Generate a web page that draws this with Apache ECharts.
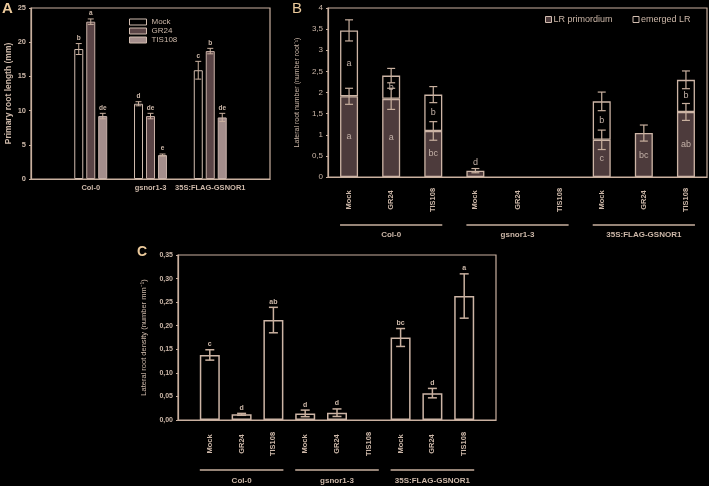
<!DOCTYPE html>
<html><head><meta charset="utf-8">
<script src="https://cdn.jsdelivr.net/npm/echarts@6/dist/echarts.min.js"></script>
<style>html,body{margin:0;padding:0;background:#000;}#c{width:709px;height:486px;}</style>
</head><body><div id="c"></div>
<script>
// ---------- Panel A data ----------
const groupsA = ['Col-0', 'gsnor1-3', '35S:FLAG-GSNOR1'];
const seriesNamesA = ['Mock', 'GR24', 'TIS108'];
const mockA = [19.0, 11.0, 15.9];
const gr24A = [23.0, 9.2, 18.7];
const tis108A = [9.2, 3.5, 9.0];
const mockErrA = [0.8, 0.3, 1.3];
const gr24ErrA = [0.4, 0.4, 0.4];
const tis108ErrA = [0.4, 0.15, 0.6];
const mockLetA = ['b', 'd', 'c'];
const gr24LetA = ['a', 'de', 'b'];
const tis108LetA = ['de', 'e', 'de'];

// ---------- Panel B data ----------
const treatments = ['Mock', 'GR24', 'TIS108', 'Mock', 'GR24', 'TIS108', 'Mock', 'GR24', 'TIS108'];
const seriesNamesB = ['LR primordium', 'emerged LR'];
const primB = [1.91, 1.85, 1.09, 0.15, 0, 0, 0.88, 1.04, 1.54];
const emergedB = [1.56, 0.55, 0.86, 0, 0, 0, 0.91, 0, 0.76];
const primErrB = [0.19, 0.25, 0.22, 0.05, 0, 0, 0.23, 0.19, 0.20];
const totalErrB = [0.25, 0.17, 0.19, 0, 0, 0, 0.22, 0, 0.21];
const primLetB = ['a', 'a', 'bc', 'd', '', '', 'c', 'bc', 'ab'];
const emergedLetB = ['a', 'b', 'b', '', '', '', 'b', '', 'b'];

// ---------- Panel C data ----------
const densityC = [0.138, 0.012, 0.212, 0.014, 0.0155, 0, 0.175, 0.057, 0.263];
const densityErrC = [0.011, 0.002, 0.027, 0.007, 0.008, 0, 0.019, 0.010, 0.047];
const densityLetC = ['c', 'd', 'ab', 'd', 'd', '', 'bc', 'd', 'a'];

// ---------- shared group structure ----------
const genotypes = ['Col-0', 'gsnor1-3', '35S:FLAG-GSNOR1'];
const groupSpans = [[0, 2], [3, 5], [6, 8]];

// ---------- styling ----------
const TXT = '#cdb8a9', LINE = '#c9b09f', FONT = 'Liberation Sans';
const BW_A = 9, BW_B = 18, BW_C = 20;

const chart = echarts.init(document.getElementById('c'));
const padCat = arr => [''].concat(arr, ['']);
const padVal = arr => [null].concat(arr.map(nz), [null]);
function nz(v) { return v === 0 ? null : v; }
const idxA = groupsA.map((g, i) => i + 1);
const idxB = treatments.map((t, i) => i);
const idxC = treatments.map((t, i) => i + 1);

function errorBars(xi, xs, vals, errs, dx, cap, lw) {
  return {
    type: 'custom', xAxisIndex: xi, yAxisIndex: xi, silent: true, z: 5,
    data: vals.map((v, i) => [xs[i], v + errs[i]]),
    renderItem: function (params, api) {
      const i = params.dataIndex, v = vals[i], e = errs[i];
      if (!(e > 0)) return { type: 'group', children: [] };
      const cx = api.coord([xs[i], 0])[0] + dx;
      const yt = api.coord([xs[i], v + e])[1];
      const yb = api.coord([xs[i], Math.max(0, v - e)])[1];
      const st = { stroke: LINE, lineWidth: lw };
      return { type: 'group', children: [
        { type: 'line', shape: { x1: cx, y1: yt, x2: cx, y2: yb }, style: st },
        { type: 'line', shape: { x1: cx - cap / 2, y1: yt, x2: cx + cap / 2, y2: yt }, style: st },
        { type: 'line', shape: { x1: cx - cap / 2, y1: yb, x2: cx + cap / 2, y2: yb }, style: st }
      ] };
    }
  };
}

function lettersAbove(xi, xs, tops, lets, dx, size, weight) {
  return {
    type: 'custom', xAxisIndex: xi, yAxisIndex: xi, silent: true, z: 6,
    data: tops.map((t, i) => [xs[i], t]),
    renderItem: function (params, api) {
      const i = params.dataIndex;
      if (!lets[i]) return { type: 'group', children: [] };
      const p = api.coord([xs[i], tops[i]]);
      return { type: 'text', x: p[0] + dx, y: p[1] - 2,
        style: { text: lets[i], fill: TXT, font: weight + ' ' + size + 'px ' + FONT, textAlign: 'center', textVerticalAlign: 'bottom' } };
    }
  };
}

function lettersMid(xi, xs, lows, highs, lets, errs) {
  return {
    type: 'custom', xAxisIndex: xi, yAxisIndex: xi, silent: true, z: 6,
    data: highs.map((h, i) => [xs[i], h]),
    renderItem: function (params, api) {
      const i = params.dataIndex;
      if (!lets[i]) return { type: 'group', children: [] };
      const pl = api.coord([xs[i], lows[i]]), ph = api.coord([xs[i], highs[i]]);
      let y, va = 'middle';
      if (pl[1] - ph[1] < 14) { y = api.coord([xs[i], highs[i] + errs[i]])[1] - 2; va = 'bottom'; }
      else y = (pl[1] + ph[1]) / 2;
      return { type: 'text', x: ph[0], y: y,
        style: { text: lets[i], fill: '#c4b2a8', font: '9px ' + FONT, textAlign: 'center', textVerticalAlign: va } };
    }
  };
}

function groupLines(xi, offset, half, lineDy, textDy) {
  return {
    type: 'custom', xAxisIndex: xi, yAxisIndex: xi, silent: true, z: 6,
    data: groupSpans.map(s => [s[0] + offset, 0]),
    renderItem: function (params, api) {
      const s = groupSpans[params.dataIndex];
      const p0 = api.coord([s[0] + offset, 0]), p1 = api.coord([s[1] + offset, 0]);
      const x0 = p0[0] - half, x1 = p1[0] + half, y = p0[1] + lineDy;
      return { type: 'group', children: [
        { type: 'line', shape: { x1: x0, y1: y, x2: x1, y2: y }, style: { stroke: LINE, lineWidth: 1.5 } },
        { type: 'text', x: (x0 + x1) / 2, y: p0[1] + textDy,
          style: { text: genotypes[params.dataIndex], fill: TXT, font: 'bold 8px ' + FONT, textAlign: 'center', textVerticalAlign: 'middle' } }
      ] };
    }
  };
}

const axisLine = { lineStyle: { color: LINE, width: 1.2 } };
const tick = { show: true, length: 2, lineStyle: { color: LINE } };
const gridStyle = { show: true, borderColor: LINE, borderWidth: 1.2, backgroundColor: 'transparent' };

const option = {
  backgroundColor: '#000',
  animation: false,
  textStyle: { fontFamily: FONT },
  grid: [
    Object.assign({ left: 31, top: 8, width: 239, height: 171 }, gridStyle),
    Object.assign({ left: 328, top: 8, width: 379, height: 169 }, gridStyle),
    Object.assign({ left: 178, top: 255, width: 318, height: 165 }, gridStyle)
  ],
  xAxis: [
    { gridIndex: 0, type: 'category', data: padCat(groupsA), boundaryGap: false, axisLine, axisTick: { show: false },
      axisLabel: { interval: 0, color: TXT, fontSize: 7.5, fontWeight: 'bold', margin: 5 } },
    { gridIndex: 1, type: 'category', data: treatments, axisLine, axisTick: { show: false },
      axisLabel: { interval: 0, rotate: 90, align: 'center', verticalAlign: 'middle', color: TXT, fontSize: 7.5, fontWeight: 'bold', margin: 23 } },
    { gridIndex: 2, type: 'category', data: padCat(treatments), boundaryGap: false, axisLine, axisTick: { show: false },
      axisLabel: { interval: 0, rotate: 90, align: 'center', verticalAlign: 'middle', color: TXT, fontSize: 7.5, fontWeight: 'bold', margin: 24 } }
  ],
  yAxis: [
    { gridIndex: 0, type: 'value', min: 0, max: 25, interval: 5, splitLine: { show: false }, axisLine: Object.assign({ show: true }, axisLine), axisTick: tick,
      axisLabel: { color: TXT, fontSize: 7.5, fontWeight: 'bold', margin: 5 },
      name: 'Primary root length (mm)', nameLocation: 'middle', nameGap: 18,
      nameTextStyle: { color: TXT, fontSize: 8.5, fontWeight: 'bold' } },
    { gridIndex: 1, type: 'value', min: 0, max: 4, interval: 0.5, splitLine: { show: false }, axisLine: Object.assign({ show: true }, axisLine), axisTick: tick,
      axisLabel: { color: TXT, fontSize: 8, margin: 5, formatter: v => String(v).replace('.', ',') },
      name: 'Lateral root number (number root⁻¹)', nameLocation: 'middle', nameGap: 23,
      nameTextStyle: { color: TXT, fontSize: 7 } },
    { gridIndex: 2, type: 'value', min: 0, max: 0.35, interval: 0.05, splitLine: { show: false }, axisLine: Object.assign({ show: true }, axisLine), axisTick: tick,
      axisLabel: { color: TXT, fontSize: 7, fontWeight: 'bold', margin: 5, formatter: v => v.toFixed(2).replace('.', ',') },
      name: 'Lateral root density (number mm⁻¹)', nameLocation: 'middle', nameGap: 30,
      nameTextStyle: { color: TXT, fontSize: 7.5 } }
  ],
  legend: [
    { data: seriesNamesA, orient: 'vertical', left: 124, top: 13, itemWidth: 17, itemHeight: 6, itemGap: 1,
      selectedMode: false, icon: 'rect', itemStyle: { borderColor: '#d2bdb0', borderWidth: 1 },
      textStyle: { color: TXT, fontSize: 8, fontFamily: FONT } },
    { data: seriesNamesB, orient: 'horizontal', left: 540, top: 10, itemWidth: 6, itemHeight: 6, itemGap: 20,
      selectedMode: false, icon: 'rect', itemStyle: { borderColor: '#d2bdb0', borderWidth: 1 },
      textStyle: { color: TXT, fontSize: 9, fontFamily: FONT, padding: [0, 0, 0, -3] } }
  ],
  graphic: [
    { type: 'text', left: 2, top: 1, style: { text: 'A', fill: '#ecca9c', font: 'bold 15px ' + FONT } },
    { type: 'text', left: 292, top: 1, style: { text: 'B', fill: '#ecca9c', font: '15px ' + FONT } },
    { type: 'text', left: 137, top: 245, style: { text: 'C', fill: '#ecca9c', font: 'bold 14px ' + FONT } }
  ],
  series: [
    { name: 'Mock', type: 'bar', xAxisIndex: 0, yAxisIndex: 0, data: padVal(mockA), barWidth: BW_A, barGap: '33%',
      itemStyle: { color: '#000', borderColor: '#d2bdb0', borderWidth: 1 } },
    { name: 'GR24', type: 'bar', xAxisIndex: 0, yAxisIndex: 0, data: padVal(gr24A), barWidth: BW_A, barGap: '33%',
      itemStyle: { color: '#5a4446', borderColor: '#c8b0a6', borderWidth: 1 } },
    { name: 'TIS108', type: 'bar', xAxisIndex: 0, yAxisIndex: 0, data: padVal(tis108A), barWidth: BW_A, barGap: '33%',
      itemStyle: { color: '#a48e8c', borderColor: '#c9b3ab', borderWidth: 1 } },
    errorBars(0, idxA, mockA, mockErrA, -12, 6, 1),
    errorBars(0, idxA, gr24A, gr24ErrA, 0, 6, 1),
    errorBars(0, idxA, tis108A, tis108ErrA, 12, 6, 1),
    lettersAbove(0, idxA, mockA.map((v, i) => v + mockErrA[i]), mockLetA, -12, 6.5, 'bold'),
    lettersAbove(0, idxA, gr24A.map((v, i) => v + gr24ErrA[i]), gr24LetA, 0, 6.5, 'bold'),
    lettersAbove(0, idxA, tis108A.map((v, i) => v + tis108ErrA[i]), tis108LetA, 12, 6.5, 'bold'),

    { name: 'LR primordium', type: 'bar', stack: 'B', xAxisIndex: 1, yAxisIndex: 1, data: primB.map(nz), barWidth: BW_B,
      itemStyle: { color: '#4d3b3c', borderColor: '#cdb5a6', borderWidth: 1.3 } },
    { name: 'emerged LR', type: 'bar', stack: 'B', xAxisIndex: 1, yAxisIndex: 1, data: emergedB.map(nz), barWidth: BW_B,
      itemStyle: { color: '#000', borderColor: '#cdb5a6', borderWidth: 1.3 } },
    errorBars(1, idxB, primB, primErrB, 0, 8, 1.2),
    errorBars(1, idxB, primB.map((v, i) => v + emergedB[i]), totalErrB, 0, 8, 1.2),
    lettersMid(1, idxB, primB.map(() => 0), primB, primLetB, primErrB),
    lettersMid(1, idxB, primB, primB.map((v, i) => v + emergedB[i]), emergedLetB, totalErrB),
    groupLines(1, 0, BW_B / 2, 48, 58),

    { name: 'density', type: 'bar', xAxisIndex: 2, yAxisIndex: 2, data: padVal(densityC), barWidth: BW_C,
      itemStyle: { color: '#000', borderColor: '#cdb5a6', borderWidth: 1.5 } },
    errorBars(2, idxC, densityC, densityErrC, 0, 9, 1.5),
    lettersAbove(2, idxC, densityC.map((v, i) => v + densityErrC[i]), densityLetC, 0, 7, 'bold'),
    groupLines(2, 1, BW_C / 2, 50, 61)
  ]
};
chart.setOption(option);
</script>
</body></html>
